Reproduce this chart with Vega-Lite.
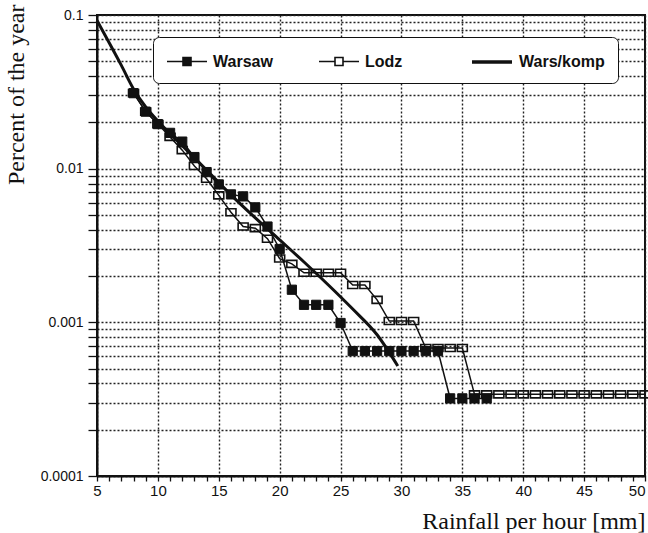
{
  "$schema": "https://vega.github.io/schema/vega-lite/v6.json",
  "width": 548,
  "height": 461,
  "autosize": {"type": "none"},
  "padding": {"left": 97, "top": 15, "right": 3, "bottom": 57},
  "background": "white",
  "config": {
    "font": "Liberation Sans",
    "view": {"stroke": "#111", "strokeWidth": 2},
    "axis": {
      "domainColor": "#111", "domainWidth": 2,
      "tickColor": "#111", "tickWidth": 1.3,
      "gridColor": "#222", "gridWidth": 1.4, "gridDash": [2, 2],
      "labelColor": "#111", "labelFont": "Liberation Sans",
      "titleColor": "#111", "titleFont": "Liberation Serif", "titleFontWeight": "normal"
    }
  },
  "datasets": {
    "obs": [
      {"series": "Lodz", "x": 8, "y": 0.031},
      {"series": "Lodz", "x": 9, "y": 0.0235},
      {"series": "Lodz", "x": 10, "y": 0.0195},
      {"series": "Lodz", "x": 11, "y": 0.0161},
      {"series": "Lodz", "x": 12, "y": 0.0132},
      {"series": "Lodz", "x": 13, "y": 0.0104},
      {"series": "Lodz", "x": 14, "y": 0.0086},
      {"series": "Lodz", "x": 15, "y": 0.0067},
      {"series": "Lodz", "x": 16, "y": 0.0052},
      {"series": "Lodz", "x": 17, "y": 0.0042},
      {"series": "Lodz", "x": 18, "y": 0.0041},
      {"series": "Lodz", "x": 19, "y": 0.0035},
      {"series": "Lodz", "x": 20, "y": 0.0026},
      {"series": "Lodz", "x": 21, "y": 0.0024},
      {"series": "Lodz", "x": 22, "y": 0.0021},
      {"series": "Lodz", "x": 23, "y": 0.0021},
      {"series": "Lodz", "x": 24, "y": 0.0021},
      {"series": "Lodz", "x": 25, "y": 0.0021},
      {"series": "Lodz", "x": 26, "y": 0.00175},
      {"series": "Lodz", "x": 27, "y": 0.00175},
      {"series": "Lodz", "x": 28, "y": 0.0014},
      {"series": "Lodz", "x": 29, "y": 0.00102},
      {"series": "Lodz", "x": 30, "y": 0.00102},
      {"series": "Lodz", "x": 31, "y": 0.00102},
      {"series": "Lodz", "x": 32, "y": 0.00068},
      {"series": "Lodz", "x": 33, "y": 0.00068},
      {"series": "Lodz", "x": 34, "y": 0.00068},
      {"series": "Lodz", "x": 35, "y": 0.00068},
      {"series": "Lodz", "x": 36, "y": 0.00034},
      {"series": "Lodz", "x": 37, "y": 0.00034},
      {"series": "Lodz", "x": 38, "y": 0.00034},
      {"series": "Lodz", "x": 39, "y": 0.00034},
      {"series": "Lodz", "x": 40, "y": 0.00034},
      {"series": "Lodz", "x": 41, "y": 0.00034},
      {"series": "Lodz", "x": 42, "y": 0.00034},
      {"series": "Lodz", "x": 43, "y": 0.00034},
      {"series": "Lodz", "x": 44, "y": 0.00034},
      {"series": "Lodz", "x": 45, "y": 0.00034},
      {"series": "Lodz", "x": 46, "y": 0.00034},
      {"series": "Lodz", "x": 47, "y": 0.00034},
      {"series": "Lodz", "x": 48, "y": 0.00034},
      {"series": "Lodz", "x": 49, "y": 0.00034},
      {"series": "Lodz", "x": 50, "y": 0.00034},
      {"series": "Warsaw", "x": 8, "y": 0.031},
      {"series": "Warsaw", "x": 9, "y": 0.0235},
      {"series": "Warsaw", "x": 10, "y": 0.0195},
      {"series": "Warsaw", "x": 11, "y": 0.0171},
      {"series": "Warsaw", "x": 12, "y": 0.015},
      {"series": "Warsaw", "x": 13, "y": 0.0119},
      {"series": "Warsaw", "x": 14, "y": 0.0095},
      {"series": "Warsaw", "x": 15, "y": 0.0079},
      {"series": "Warsaw", "x": 16, "y": 0.0068},
      {"series": "Warsaw", "x": 17, "y": 0.0066},
      {"series": "Warsaw", "x": 18, "y": 0.0056},
      {"series": "Warsaw", "x": 19, "y": 0.0042},
      {"series": "Warsaw", "x": 20, "y": 0.003},
      {"series": "Warsaw", "x": 21, "y": 0.00163},
      {"series": "Warsaw", "x": 22, "y": 0.0013},
      {"series": "Warsaw", "x": 23, "y": 0.0013},
      {"series": "Warsaw", "x": 24, "y": 0.0013},
      {"series": "Warsaw", "x": 25, "y": 0.00099},
      {"series": "Warsaw", "x": 26, "y": 0.00065},
      {"series": "Warsaw", "x": 27, "y": 0.00065},
      {"series": "Warsaw", "x": 28, "y": 0.00065},
      {"series": "Warsaw", "x": 29, "y": 0.00065},
      {"series": "Warsaw", "x": 30, "y": 0.00065},
      {"series": "Warsaw", "x": 31, "y": 0.00065},
      {"series": "Warsaw", "x": 32, "y": 0.00065},
      {"series": "Warsaw", "x": 33, "y": 0.00065},
      {"series": "Warsaw", "x": 34, "y": 0.00032},
      {"series": "Warsaw", "x": 35, "y": 0.00032},
      {"series": "Warsaw", "x": 36, "y": 0.00032},
      {"series": "Warsaw", "x": 37, "y": 0.00032}
    ],
    "komp": [
      {"series": "Wars/komp", "x": 5, "y": 0.092},
      {"series": "Wars/komp", "x": 6, "y": 0.066},
      {"series": "Wars/komp", "x": 7, "y": 0.047},
      {"series": "Wars/komp", "x": 8, "y": 0.033},
      {"series": "Wars/komp", "x": 9, "y": 0.0252},
      {"series": "Wars/komp", "x": 10, "y": 0.0204},
      {"series": "Wars/komp", "x": 12, "y": 0.0141},
      {"series": "Wars/komp", "x": 14, "y": 0.0098},
      {"series": "Wars/komp", "x": 16, "y": 0.00675},
      {"series": "Wars/komp", "x": 18, "y": 0.00478},
      {"series": "Wars/komp", "x": 20, "y": 0.00344},
      {"series": "Wars/komp", "x": 22, "y": 0.00247},
      {"series": "Wars/komp", "x": 24, "y": 0.00175},
      {"series": "Wars/komp", "x": 26, "y": 0.00122},
      {"series": "Wars/komp", "x": 28, "y": 0.00083},
      {"series": "Wars/komp", "x": 29.7, "y": 0.00052}
    ]
  },
  "encoding": {
    "x": {
      "field": "x", "type": "quantitative",
      "scale": {"domain": [5, 50], "nice": false, "zero": false},
      "axis": {
        "values": [5,6,7,8,9,10,11,12,13,14,15,16,17,18,19,20,21,22,23,24,25,26,27,28,29,30,31,32,33,34,35,36,37,38,39,40,41,42,43,44,45,46,47,48,49,50],
        "labelExpr": "datum.value % 5 === 0 ? datum.label : ''",
        "labelAlign": {"condition": {"test": "datum.value === 50", "value": "right"}, "value": "center"},
        "gridOpacity": {"condition": {"test": "datum.value % 5 === 0", "value": 1}, "value": 0},
        "tickSize": 5,
        "labelFontSize": 15,
        "labelPadding": 2,
        "labelFlush": false,
        "labelOverlap": false,
        "title": "Rainfall per hour [mm]",
        "titleFontSize": 24,
        "titleAnchor": "end",
        "titleAlign": "right",
        "titleX": 548,
        "titleY": 52,
        "titleBaseline": "alphabetic"
      }
    },
    "y": {
      "field": "y", "type": "quantitative",
      "scale": {"type": "log", "domain": [0.0001, 0.1], "nice": false},
      "axis": {
        "values": [0.0001,0.0002,0.0003,0.0004,0.0005,0.0006,0.0007,0.0008,0.0009,0.001,0.002,0.003,0.004,0.005,0.006,0.007,0.008,0.009,0.01,0.02,0.03,0.04,0.05,0.06,0.07,0.08,0.09,0.1],
        "labelExpr": "datum.value === 0.1 ? '0.1' : datum.value === 0.01 ? '0.01' : datum.value === 0.001 ? '0.001' : datum.value === 0.0001 ? '0.0001' : ''",
        "tickSize": 9,
        "labelFontSize": 14,
        "labelPadding": 5,
        "labelOverlap": false,
        "labelFlush": false,
        "title": "Percent of the year",
        "titleFontSize": 24,
        "titleAngle": 270,
        "titleAlign": "right",
        "titleX": -74,
        "titleY": -11,
        "titleBaseline": "alphabetic"
      }
    }
  },
  "layer": [
    {
      "data": {"name": "komp"},
      "mark": {"type": "line", "color": "#111", "strokeWidth": 3, "interpolate": "monotone"},
      "encoding": {}
    },
    {
      "data": {"name": "obs"},
      "mark": {"type": "line", "color": "#111", "strokeWidth": 1.5},
      "encoding": {"detail": {"field": "series", "type": "nominal"}}
    },
    {
      "data": {"name": "obs"},
      "transform": [{"filter": "datum.series === 'Lodz'"}],
      "mark": {"type": "point", "shape": "M-1,-0.7H1V0.7H-1Z", "size": 100, "filled": false, "stroke": "#111", "strokeWidth": 1.6, "opacity": 1}
    },
    {
      "data": {"name": "obs"},
      "transform": [{"filter": "datum.series === 'Warsaw'"}],
      "mark": {"type": "point", "shape": "square", "size": 85, "filled": true, "fill": "#111", "stroke": "#111", "strokeWidth": 1, "opacity": 1}
    },
    {
      "data": {"name": "obs"},
      "mark": {"type": "point", "filled": true, "opacity": 0},
      "encoding": {
        "shape": {
          "field": "series", "type": "nominal",
          "scale": {
            "domain": ["Warsaw", "Lodz", "Wars/komp"],
            "range": ["M-1,0H0.6M1.4,0H3M0.6,-0.4H1.4V0.4H0.6Z", "M-1,0H0.6M1.4,0H3M0.6,-0.4H1.4V0.4H0.6Z", "M-1,0H3"]
          },
          "legend": {
            "orient": "none", "legendX": 56, "legendY": 22,
            "direction": "horizontal", "title": null,
            "gridAlign": "all", "columnPadding": 12, "padding": 13,
            "fillColor": "white", "strokeColor": "#111", "cornerRadius": 6,
            "labelFont": "Liberation Sans", "labelFontSize": 16, "labelFontWeight": "bold", "labelColor": "#111",
            "symbolSize": 400, "symbolOpacity": 1, "labelOffset": 25
          }
        },
        "fill": {
          "field": "series", "type": "nominal",
          "scale": {"domain": ["Warsaw", "Lodz", "Wars/komp"], "range": ["#111", "white", "#111"]}
        },
        "stroke": {
          "field": "series", "type": "nominal",
          "scale": {"domain": ["Warsaw", "Lodz", "Wars/komp"], "range": ["#111", "#111", "#111"]}
        },
        "strokeWidth": {
          "field": "series", "type": "nominal",
          "scale": {"type": "ordinal", "domain": ["Warsaw", "Lodz", "Wars/komp"], "range": [1.6, 1.6, 3.5]}
        }
      }
    }
  ]
}
